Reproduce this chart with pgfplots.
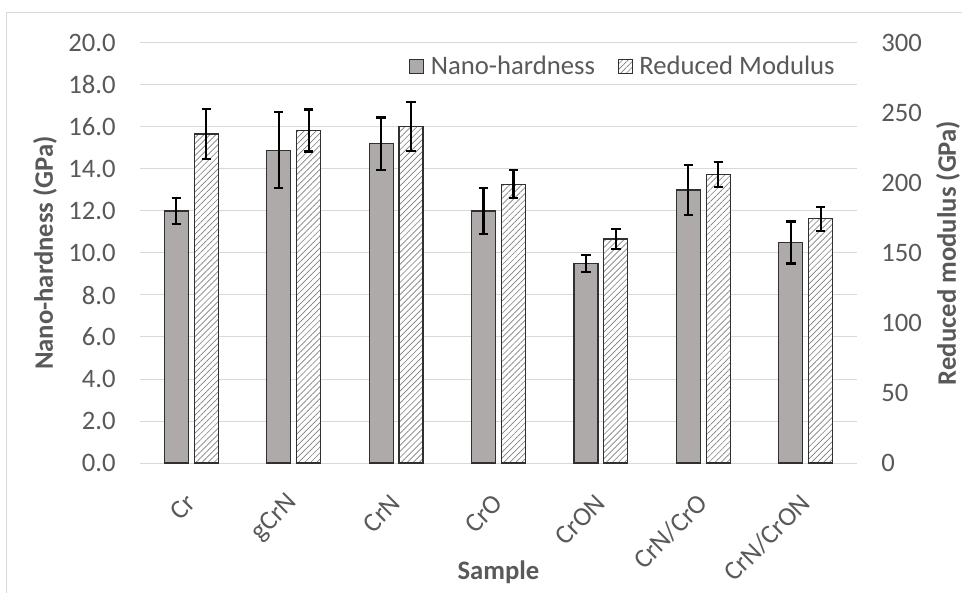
\documentclass[border=0pt]{standalone}
\usepackage{pgfplots}
\pgfplotsset{compat=1.18}
\usetikzlibrary{patterns.meta}
\usepackage{fontspec}
\setmainfont{Carlito}
\definecolor{txt}{HTML}{595959}
\definecolor{barfill}{HTML}{AEAAAA}
\definecolor{barborder}{HTML}{303030}
\definecolor{hatch}{HTML}{7F7F7F}
\definecolor{gridc}{HTML}{D9D9D9}
\begin{document}
\begin{tikzpicture}
\path[use as bounding box] (-105pt,-96.75pt) rectangle (616.5pt,347.25pt);
\draw[gridc, line width=0.75pt] (620pt,337.5pt) -- (-99.75pt,337.5pt) -- (-99.75pt,-100pt);
\pgfplotsset{
 common/.style={
  at={(0pt,0pt)}, anchor=south west,
  scale only axis, width=537.75pt, height=315pt,
  xmin=-0.5, xmax=6.5,
  axis line style={draw=none}, major tick length=0pt,
  ymin=0,
  tick label style={font=\fontsize{20}{24}\selectfont, text=txt},
  /pgf/number format/assume math mode=true,
  bar width=18pt,
  error bars/y dir=both, error bars/y explicit,
  error bars/error bar style={line width=1.6pt, black},
  error bars/error mark options={rotate=90, mark size=3.5pt, line width=1.6pt, black},
 },
 hatchbar/.style={ybar, bar shift=0pt, fill=white, draw=barborder, line width=0.8pt,
   postaction={pattern={Lines[angle=45,distance=3.2pt,line width=0.5pt]}, pattern color=hatch}},
 graybar/.style={ybar, bar shift=0pt, fill=barfill, draw=barborder, line width=0.8pt},
}
\begin{axis}[common, ymax=20, ytick={0,2,4,6,8,10,12,14,16,18,20},
  ymajorgrids, grid style={gridc, line width=0.75pt},
  yticklabel style={/pgf/number format/fixed, /pgf/number format/fixed zerofill, /pgf/number format/precision=1,
    anchor=east, inner sep=0pt, xshift=-18pt},
  xtick={0,1,2,3,4,5,6},
  xticklabels={Cr,gCrN,CrN,CrO,CrON,CrN/CrO,CrN/CrON},
  xticklabel style={xshift=0pt, yshift=-27pt, rotate=45, anchor=east, inner sep=0pt},
  xlabel={Sample},
  every axis x label/.style={at={(axis description cs:0.5,-0.2595)}, anchor=center,
    font=\bfseries\fontsize{20}{24}\selectfont, text=txt},
  ylabel={Nano-hardness (GPa)},
  every axis y label/.style={at={(axis description cs:-0.1325,0.5)}, anchor=center, rotate=90,
    font=\bfseries\fontsize{20}{24}\selectfont, text=txt},
  legend style={at={(0.674,0.945)}, anchor=center, draw=none, fill=none,
    legend columns=2, font=\fontsize{20}{24}\selectfont, text=txt,
    /tikz/every odd column/.append style={column sep=3pt},
    /tikz/every even column/.append style={column sep=15pt}},
  legend image code/.code={\draw[#1, line width=0.8pt] (0pt,-5.25pt) rectangle (10.5pt,5.25pt);},
]
\addplot[graybar] coordinates {
 (-0.146,12.0) +- (0,0.6)
 (0.854,14.9) +- (0,1.8)
 (1.854,15.2) +- (0,1.25)
 (2.854,12.0) +- (0,1.1)
 (3.854,9.5) +- (0,0.4)
 (4.854,13.0) +- (0,1.2)
 (5.854,10.5) +- (0,1.0)
};
\addlegendentry{Nano-hardness}
\addlegendimage{fill=white, draw=barborder, postaction={pattern={Lines[angle=45,distance=3pt,line width=0.5pt]}, pattern color=hatch}}
\addlegendentry{Reduced Modulus}
\end{axis}
\begin{axis}[common, ymax=300, ytick={0,50,100,150,200,250,300},
  xtick=\empty,
  yticklabel pos=right,
  yticklabel style={anchor=west, inner sep=0pt, xshift=18pt},
  ylabel={Reduced modulus (GPa)},
  every axis y label/.style={at={(axis description cs:1.127,0.5)}, anchor=center, rotate=90,
    font=\bfseries\fontsize{20}{24}\selectfont, text=txt},
]
\addplot[hatchbar] coordinates {
 (0.146,235) +- (0,18)
 (1.146,237.5) +- (0,15)
 (2.146,240.5) +- (0,17.5)
 (3.146,199) +- (0,10)
 (4.146,160) +- (0,7)
 (5.146,206) +- (0,9)
 (6.146,174.5) +- (0,8.5)
};
\end{axis}
\end{tikzpicture}
\end{document}
